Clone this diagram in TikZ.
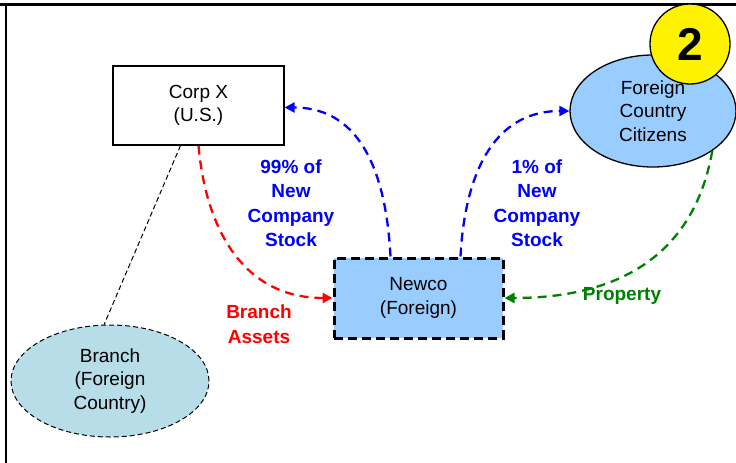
\documentclass[tikz,border=0pt]{standalone}
\usepackage{fontspec}
\setmainfont{Liberation Sans}
\usetikzlibrary{shapes.geometric,arrows.meta}
\definecolor{boxblue}{HTML}{99CCFF}
\definecolor{branchblue}{HTML}{B7DDE8}
\definecolor{propgreen}{HTML}{008000}
\tikzset{
  corpbox/.style={draw=black, fill=white, line width=1.2pt, minimum width=171pt, minimum height=79pt, align=center},
  newcobox/.style={draw=black, fill=boxblue, line width=3pt, dash pattern=on 9pt off 5pt, minimum width=169pt, minimum height=80pt, align=center},
  branchell/.style={ellipse, draw=black, fill=branchblue, line width=1pt, dash pattern=on 5pt off 3pt, minimum width=198pt, minimum height=112pt, align=center, inner sep=0pt},
  citell/.style={ellipse, draw=black, fill=boxblue, line width=1.3pt, minimum width=166pt, minimum height=112pt, align=center, inner sep=0pt},
  badge/.style={circle, draw=black, fill=yellow, line width=1.3pt, minimum size=80pt, inner sep=0pt},
  flow/.style={line width=2.3pt, dash pattern=on 9pt off 6pt, -{Triangle[length=10pt,width=10pt]}},
  lbl/.style={align=center, font=\bfseries\fontsize{19}{24.5}\selectfont}
}
\begin{document}
\begin{tikzpicture}[x=1pt, y=-1pt, font=\fontsize{19}{23.5}\selectfont]
		\useasboundingbox (0,0) rectangle (736,463);
		% Ramme
		\draw[line width=3pt] (0,4) -- (736,4);
		\draw[line width=2pt] (6,4) -- (6,463);

		% Selskaper
		\node[corpbox] (corp) at (198.5,105.5) {Corp X\\(U.S.)};
		\node[branchell] (branch) at (110,381) {Branch\\(Foreign\\Country)};
		\node[newcobox] (newco) at (418.5,298) {Newco\\(Foreign)};
		\node[citell] (cit) at (653,111) {Foreign\\Country\\Citizens};
		\node[badge] (two) at (690,44) {\bfseries\fontsize{46}{46}\selectfont 2};

		% Filial
		\draw[line width=1pt, dash pattern=on 5pt off 3pt] ([xshift=-18pt]corp.south) -- (branch.96);

		% Aksjer
		\draw[flow, blue] ([xshift=-28pt]newco.north) to[out=93, in=0, looseness=1.1] ([yshift=-2pt]corp.east);
		\draw[flow, blue] ([xshift=42pt]newco.north) to[out=87, in=180, looseness=1.1] (cit.west);
		\node[lbl, text=blue] (lbl99) at (291,203) {99\% of\\New\\Company\\Stock};
		\node[lbl, text=blue] (lbl1) at (537,203) {1\% of\\New\\Company\\Stock};

		% Eiendeler
		\draw[flow, red] (corp.south) to[out=-85, in=180, looseness=1.1] (newco.west);
		\draw[flow, propgreen] (cit.-34) to[out=-100, in=0, looseness=1.1] (newco.east);
		\node[lbl, text=red] (lblassets) at (259,324) {Branch\\Assets};
		\node[lbl, text=propgreen] (lblprop) at (622,296) {Property};
	\end{tikzpicture}
\end{document}
